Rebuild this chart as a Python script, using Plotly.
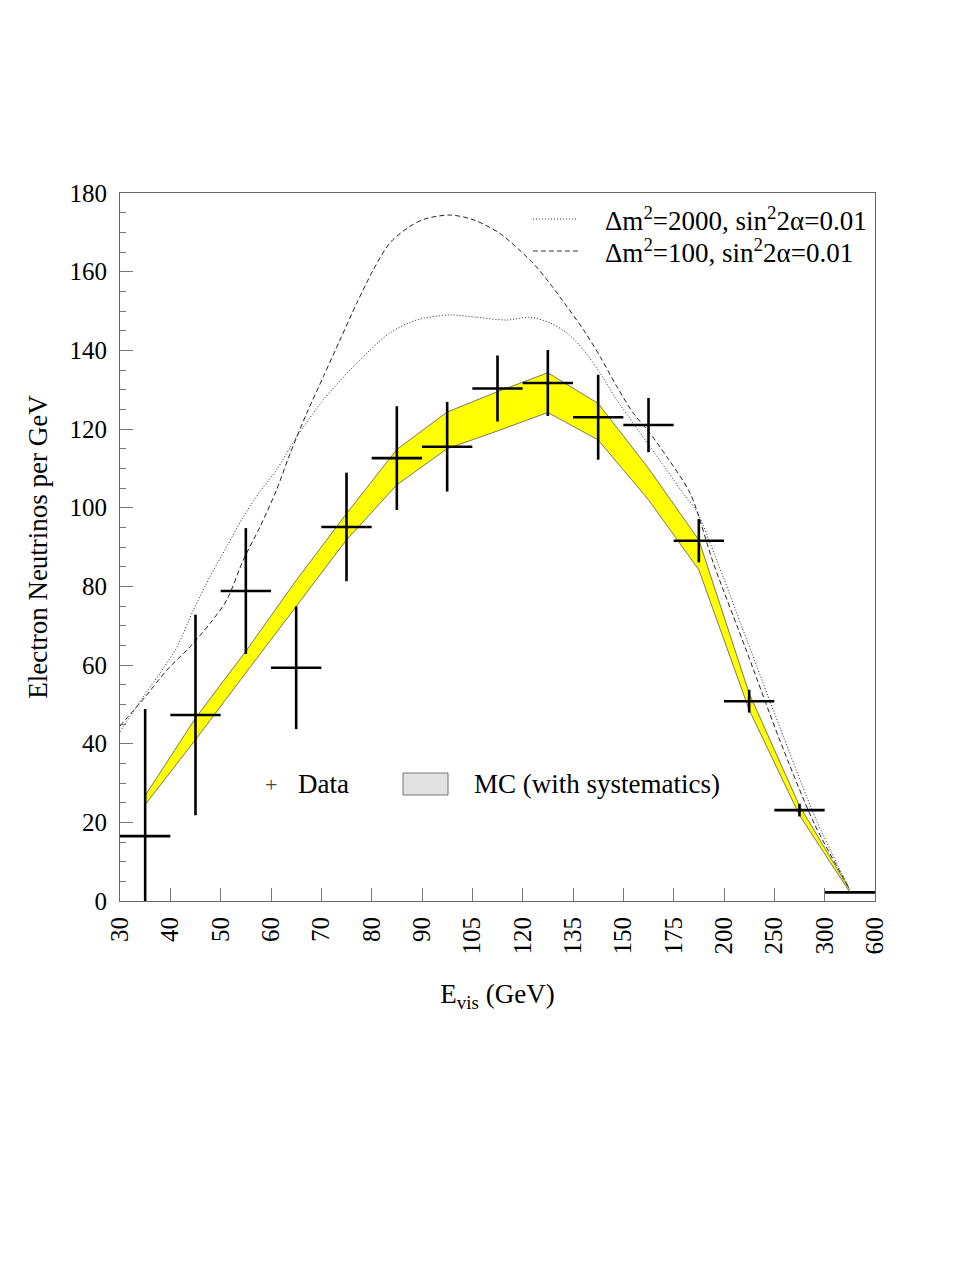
import plotly.graph_objects as go

# ---- data (x in bin-index units; bins are drawn equally spaced) ----
bin_edges_labels = ["30", "40", "50", "60", "70", "80", "90", "105", "120", "135",
                    "150", "175", "200", "250", "300", "600"]
bin_centers = [i + 0.5 for i in range(15)]
bin_halfwidth = [0.5] * 15

data_y = [16.5, 47.3, 78.8, 59.3, 95.1, 112.6, 115.5, 130.3, 131.7, 123.0,
          121.0, 91.6, 50.8, 23.1, 2.2]
data_err = [32.3, 25.5, 16.0, 15.6, 13.8, 13.2, 11.4, 8.4, 8.4, 10.8,
            6.9, 5.5, 2.9, 1.6, 0.0]

mc_upper = [26.8, 46.5, 63.5, 81.5, 98.5, 114.8, 124.3, 129.5, 134.3, 126.5,
            110.0, 91.8, 52.8, 24.2, 2.8]
mc_lower = [24.5, 41.0, 58.0, 75.0, 91.8, 105.8, 115.0, 119.5, 124.2, 117.2,
            102.0, 84.2, 48.6, 21.8, 2.2]

osc2000_x = [0, 0.46, 0.79, 1.13, 1.46, 1.79, 2.12, 2.45, 2.78, 3.11, 3.51, 4.04,
             4.70, 5.36, 5.89, 6.56, 7.09, 7.68, 8.15, 8.54, 8.88, 9.21, 9.54,
             9.87, 10.20, 10.53, 10.86, 11.19, 11.46, 11.83, 12.48, 13.16, 13.82, 14.5]
osc2000_y = [43.0, 51.9, 57.8, 64.6, 74.0, 82.5, 90.1, 97.7, 104.1, 109.6, 118.0,
             127.4, 136.7, 144.4, 147.7, 149.0, 148.4, 147.7, 148.4, 147.0, 144.4,
             140.1, 134.2, 127.4, 121.4, 115.5, 109.6, 103.6, 99.0, 87.5, 65.5,
             42.5, 21.0, 2.8]

osc100_x = [0, 0.50, 0.93, 1.39, 1.79, 2.12, 2.45, 2.78, 3.11, 3.38, 3.71, 4.04,
            4.37, 4.70, 5.03, 5.36, 5.70, 6.03, 6.56, 7.02, 7.55, 8.21, 8.54,
            8.88, 9.21, 9.54, 9.87, 10.20, 10.53, 10.86, 11.33, 11.8, 12.45,
            13.12, 13.8, 14.5]
osc100_y = [44.5, 51.9, 58.7, 64.6, 70.6, 76.5, 86.7, 95.1, 104.5, 113.8, 124.0,
            133.3, 142.6, 151.9, 160.4, 167.3, 171.0, 173.3, 174.4, 173.2, 169.7,
            162.1, 157.0, 151.1, 145.2, 138.4, 130.8, 124.0, 118.9, 113.0, 103.6,
            85.5, 63.5, 40.5, 19.5, 3.0]

FONT = "Liberation Serif, Times New Roman, serif"
TICK_SIZE = 25
TEXT_SIZE = 27

fig = go.Figure()

# MC band
fig.add_trace(go.Scatter(x=bin_centers, y=mc_lower, mode="lines",
                         line=dict(color="#555555", width=0.8), showlegend=False))
fig.add_trace(go.Scatter(x=bin_centers, y=mc_upper, mode="lines", fill="tonexty",
                         fillcolor="#ffff00",
                         line=dict(color="#555555", width=0.8), showlegend=False))

# oscillation curves
fig.add_trace(go.Scatter(x=osc2000_x, y=osc2000_y, mode="lines",
                         line=dict(color="#222222", width=1, dash="1px,2px",
                                   shape="spline", smoothing=0.8),
                         showlegend=False))
fig.add_trace(go.Scatter(x=osc100_x, y=osc100_y, mode="lines",
                         line=dict(color="#222222", width=1, dash="5px,3px",
                                   shape="spline", smoothing=0.8),
                         showlegend=False))

# data crosses
fig.add_trace(go.Scatter(x=bin_centers, y=data_y, mode="markers",
                         marker=dict(size=1, color="black"),
                         error_x=dict(type="data", array=bin_halfwidth, symmetric=True,
                                      thickness=2.6, width=0, color="black"),
                         error_y=dict(type="data", array=data_err, symmetric=True,
                                      thickness=2.6, width=0, color="black"),
                         showlegend=False))

# page has an 8px body margin: plot area should land at x 120..875, y 193..901
OFF = 8
W, H = 977 - OFF, 1264 - OFF
L, T = 120 - OFF, 193 - OFF
pw, ph = 755, 708
R, B = W - L - pw, H - T - ph


def px(xp):
    return (xp - 120) / pw


def py(yp):
    return (901 - yp) / ph


annotations = [
    dict(x=px(603), y=py(219), text="Δm<sup>2</sup>=2000, sin<sup>2</sup>2α=0.01"),
    dict(x=px(603), y=py(251), text="Δm<sup>2</sup>=100, sin<sup>2</sup>2α=0.01"),
    dict(x=px(296), y=py(784), text="Data"),
    dict(x=px(472), y=py(784), text="MC (with systematics)"),
]
for a in annotations:
    a.update(xref="paper", yref="paper", xanchor="left", yanchor="middle",
             showarrow=False, font=dict(family=FONT, size=TEXT_SIZE, color="black"))
annotations.append(dict(x=px(271), y=py(784), xref="paper", yref="paper",
                        text="+", showarrow=False, xanchor="center", yanchor="middle",
                        font=dict(family=FONT, size=22, color="#444444")))

shapes = [
    dict(type="line", xref="paper", yref="paper", x0=px(533), x1=px(578),
         y0=py(219), y1=py(219), line=dict(color="#333333", width=1, dash="1px,2px")),
    dict(type="line", xref="paper", yref="paper", x0=px(533), x1=px(578),
         y0=py(251), y1=py(251), line=dict(color="#333333", width=1, dash="5px,3px")),
    dict(type="rect", xref="paper", yref="paper", x0=px(403), x1=px(448),
         y0=py(795), y1=py(773), fillcolor="#e2e2e2",
         line=dict(color="#777777", width=1)),
]

fig.update_layout(
    width=W, height=H, autosize=False,
    margin=dict(l=L, r=R, t=T, b=B, pad=0),
    paper_bgcolor="white", plot_bgcolor="white",
    font=dict(family=FONT, size=TICK_SIZE, color="black"),
    annotations=annotations, shapes=shapes,
    showlegend=False,
)

fig.update_xaxes(
    range=[0, 15], tickmode="array", tickvals=list(range(16)),
    ticktext=bin_edges_labels, tickangle=-90,
    ticks="inside", ticklen=13, tickwidth=1, tickcolor="#777777",
    ticklabelstandoff=5,
    showgrid=False, zeroline=False,
    showline=True, linecolor="#666666", linewidth=1, mirror=True,
    tickfont=dict(family=FONT, size=TICK_SIZE, color="black"),
    title=dict(text="E<sub>vis</sub> (GeV)", font=dict(family=FONT, size=TEXT_SIZE),
               standoff=30),
)
fig.update_yaxes(
    range=[0, 180], tickmode="linear", tick0=0, dtick=20,
    ticks="inside", ticklen=13, tickwidth=1, tickcolor="#777777",
    ticklabelstandoff=7,
    minor=dict(ticks="inside", ticklen=6, dtick=5, tickcolor="#777777", tickwidth=1),
    showgrid=False, zeroline=False,
    showline=True, linecolor="#666666", linewidth=1, mirror=True,
    tickfont=dict(family=FONT, size=TICK_SIZE, color="black"),
    title=dict(text="Electron Neutrinos per GeV", font=dict(family=FONT, size=TEXT_SIZE),
               standoff=14),
)

fig.write_html("out.html")
